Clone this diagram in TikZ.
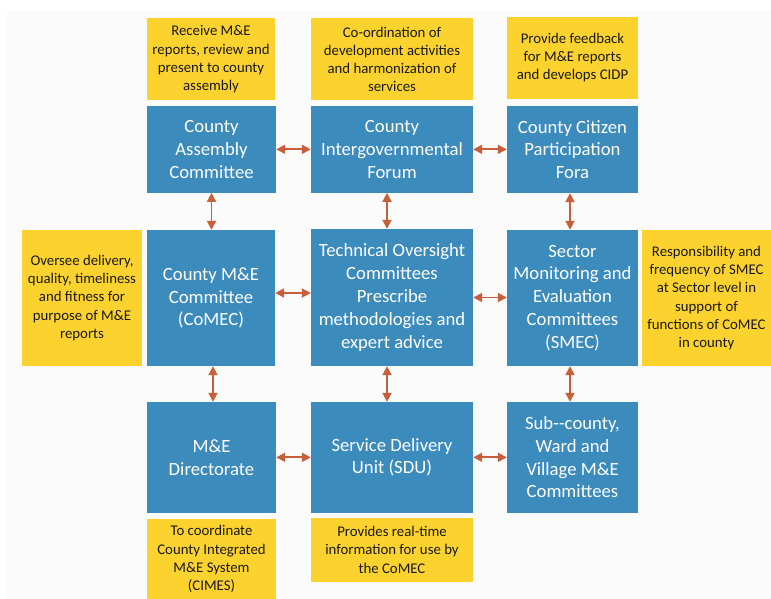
\documentclass[tikz,border=0pt]{standalone}
\usepackage{fontspec}
\setmainfont{Carlito}
\usetikzlibrary{arrows.meta}
\definecolor{boxblue}{HTML}{3C8BBD}
\definecolor{boxyellow}{HTML}{FCD22F}
\definecolor{arrowred}{HTML}{C85F3A}
\definecolor{bggray}{HTML}{FBFBFB}
\tikzset{
  bluebox/.style={fill=boxblue, text=white, inner sep=0pt, align=center,
    font=\fontsize{18.7}{22.8}\selectfont},
  yellowbox/.style={fill=boxyellow, text=black!90, inner sep=0pt, align=center,
    font=\fontsize{14.8}{18.2}\selectfont},
  arr/.style={draw=arrowred, line width=1.8pt,
    {Triangle[length=9pt,width=9pt]}-{Triangle[length=9pt,width=9pt]}},
}
\begin{document}
\begin{tikzpicture}[x=1pt,y=-1pt]
\useasboundingbox (0,0) rectangle (771,599);
\fill[bggray] (7,10) rectangle (771,599);
% top yellow
\node[yellowbox, minimum width=128pt, minimum height=82.5pt] (y1) at (211,59.25) {Receive M\&E\\reports, review and\\present to county\\assembly};
\node[yellowbox, minimum width=162pt, minimum height=82.5pt] (y2) at (392,59.25) {Co-ordination of\\development activities\\and harmonization of\\services};
\node[yellowbox, minimum width=131pt, minimum height=81.7pt] (y3) at (572.5,57.85) {Provide feedback\\for M\&E reports\\and develops CIDP};
% row 1
\node[bluebox, minimum width=129pt, minimum height=86.7pt] (b11) at (211.5,149.35) {County\\Assembly\\Committee};
\node[bluebox, minimum width=162pt, minimum height=86.7pt] (b12) at (392,149.35) {County\\Intergovernmental\\Forum};
\node[bluebox, minimum width=131pt, minimum height=87pt] (b13) at (572.5,149.5) {County Citizen\\Participation\\Fora};
% row 2
\node[yellowbox, minimum width=120pt, minimum height=136pt] (yl) at (82,298) {Oversee delivery,\\quality, timeliness\\and fitness for\\purpose of M\&E\\reports};
\node[bluebox, minimum width=128pt, minimum height=136pt] (b21) at (211,298) {County M\&E\\Committee\\(CoMEC)};
\node[bluebox, minimum width=162pt, minimum height=137pt] (b22) at (392,297.5) {Technical Oversight\\Committees\\Prescribe\\methodologies and\\expert advice};
\node[bluebox, minimum width=131pt, minimum height=136pt] (b23) at (572.5,298) {Sector\\Monitoring and\\Evaluation\\Committees\\(SMEC)};
\node[yellowbox, minimum width=129pt, minimum height=136pt] (yr) at (706.5,298) {Responsibility and\\frequency of SMEC\\at Sector level in\\support of\\functions of CoMEC\\in county};
% row 3
\node[bluebox, minimum width=129pt, minimum height=110.7pt] (b31) at (211.5,457.35) {M\&E\\Directorate};
\node[bluebox, minimum width=162pt, minimum height=110.7pt] (b32) at (392,457.35) {Service Delivery\\Unit (SDU)};
\node[bluebox, minimum width=131pt, minimum height=110.7pt] (b33) at (572.5,457.35) {Sub-{}-county,\\Ward and\\Village M\&E\\Committees};
% bottom yellow
\node[yellowbox, minimum width=129pt, minimum height=80pt] (y31) at (211.5,559) {To coordinate\\County Integrated\\M\&E System\\(CIMES)};
\node[yellowbox, minimum width=162pt, minimum height=63.7pt] (y32) at (392,549.85) {Provides real-time\\information for use by\\the CoMEC};
% horizontal arrows
\draw[arr] (b11.east) -- (b11.east -| b12.west);
\draw[arr] (b12.east) -- (b12.east -| b13.west);
\draw[arr] ([yshift=5pt]b21.east) -- ([yshift=5pt]b21.east -| b22.west);
\draw[arr] (b22.east) -- (b22.east -| b23.west);
\draw[arr] (b31.east) -- (b31.east -| b32.west);
\draw[arr] (b32.east) -- (b32.east -| b33.west);
% vertical arrows
\draw[arr] (b11.south) -- (b11.south |- b21.north);
\draw[arr] ([xshift=-5pt]b12.south) -- ([xshift=-5pt]b12.south |- b22.north);
\draw[arr] ([xshift=-2.5pt]b13.south) -- ([xshift=-2.5pt]b13.south |- b23.north);
\draw[arr] ([xshift=2pt]b21.south) -- ([xshift=2pt]b21.south |- b31.north);
\draw[arr] ([xshift=-5pt]b22.south) -- ([xshift=-5pt]b22.south |- b32.north);
\draw[arr] ([xshift=-2.5pt]b23.south) -- ([xshift=-2.5pt]b23.south |- b33.north);
\end{tikzpicture}
\end{document}
